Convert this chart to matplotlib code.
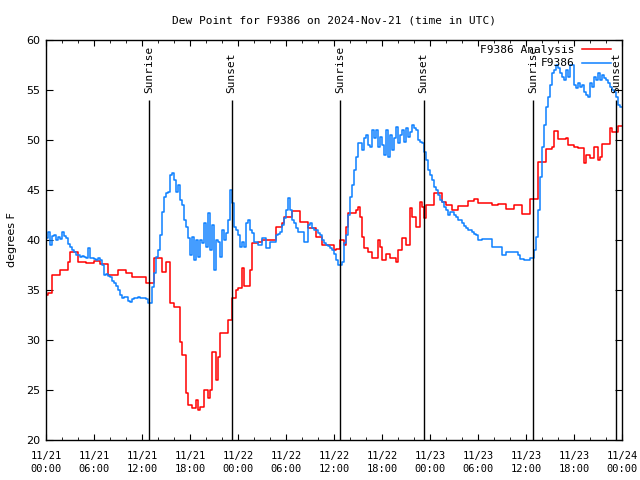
import numpy as np
import matplotlib
matplotlib.use("Agg")
import matplotlib.pyplot as plt
from matplotlib.ticker import MultipleLocator

# hours since 2024-11-21 00:00 UTC, one sample every 15 minutes
step_h = 0.25

# F9386 observed dew point (degF), one row per hour
obs = [
    40.2, 40.8, 39.5, 40.4,  40.5, 40.0, 40.3, 40.1,  40.8, 40.4, 40.2, 39.6,
    39.3, 39.0, 38.8, 38.5,  38.5, 38.3, 38.4, 38.3,  38.2, 39.2, 38.2, 38.2,
    38.1, 38.0, 38.2, 38.0,  37.5, 36.5, 36.6, 36.4,  36.3, 35.9, 35.7, 35.4,
    35.0, 34.5, 34.2, 34.3,  34.3, 33.9, 33.8, 34.1,  34.2, 34.2, 34.3, 34.2,
    34.2, 34.2, 34.1, 33.7,  33.7, 35.3, 36.7, 38.3,  39.0, 40.5, 42.8, 44.3,
    44.7, 44.8, 46.5, 46.7,  46.0, 44.8, 45.5, 44.0,  43.5, 42.0, 41.3, 40.2,
    38.5, 40.3, 38.0, 40.0,  38.3, 40.0, 39.7, 41.7,  39.3, 42.7, 39.0, 41.5,
    37.0, 40.0, 39.8, 38.3,  41.0, 40.0, 40.7, 42.0,  45.0, 43.7, 41.3, 41.0,
    40.5, 39.3, 39.8, 39.3,  41.7, 42.0, 41.0, 40.7,  39.8, 39.8, 39.5, 39.5,
    40.2, 40.2, 39.2, 39.2,  39.8, 39.8, 39.8, 40.5,  40.6, 40.8, 41.5, 42.2,
    43.0, 44.2, 43.0, 42.0,  41.7, 41.2, 40.8, 40.8,  40.8, 39.8, 39.8, 41.5,
    41.7, 41.2, 41.0, 41.0,  40.7, 40.5, 40.0, 39.7,  39.5, 39.4, 39.2, 39.0,
    38.6, 38.0, 37.5, 37.5,  37.8, 39.7, 40.5, 42.5,  44.3, 45.5, 47.0, 48.3,
    49.7, 49.7, 49.0, 50.2,  50.5, 49.5, 49.3, 51.0,  50.2, 51.0, 49.3, 50.3,
    49.5, 48.5, 51.0, 48.3,  50.5, 49.0, 50.2, 51.3,  49.7, 50.5, 51.0, 49.8,
    51.2, 50.3, 50.8, 51.5,  51.2, 51.0, 50.0, 49.8,  49.7, 48.8, 48.0, 47.0,
    46.5, 46.0, 45.3, 45.0,  44.5, 44.0, 43.8, 43.3,  43.0, 42.5, 42.8, 42.8,
    42.5, 42.3, 42.0, 42.0,  41.7, 41.4, 41.2, 41.0,  41.0, 40.8, 40.6, 40.5,
    40.0, 40.0, 40.1, 40.1,  40.1, 40.1, 40.1, 39.3,  39.3, 39.3, 39.3, 39.3,
    38.5, 38.5, 38.8, 38.8,  38.8, 38.8, 38.8, 38.8,  38.5, 38.1, 38.1, 38.0,
    38.0, 38.0, 38.2, 38.2,  39.0, 40.3, 43.0, 46.3,  49.3, 51.5, 53.3, 54.3,
    55.5, 56.7, 57.0, 57.5,  57.2, 56.7, 56.3, 56.0,  57.0, 56.3, 57.5, 57.5,
    55.5, 55.2, 55.7, 55.3,  55.5, 54.8, 54.5, 54.3,  55.7, 55.3, 56.3, 56.0,
    56.7, 56.0, 56.5, 56.2,  56.0, 55.7, 55.3, 55.0,  54.8, 54.3, 53.5, 53.3,
    53.3,
]

# F9386 analysis dew point (degF)
ana = [
    34.5, 34.7, 34.7, 36.5,  36.5, 36.5, 36.5, 37.0,  37.0, 37.0, 37.0, 37.8,
    38.8, 38.8, 38.8, 38.8,  37.8, 37.8, 37.8, 37.8,  37.7, 37.7, 37.7, 37.7,
    37.9, 37.9, 37.9, 37.6,  37.6, 37.6, 37.6, 36.5,  36.5, 36.5, 36.5, 36.5,
    37.0, 37.0, 37.0, 37.0,  36.7, 36.7, 36.7, 36.3,  36.3, 36.3, 36.3, 36.3,
    36.3, 36.3, 35.7, 35.7,  35.7, 35.7, 38.2, 38.2,  38.2, 38.2, 36.8, 36.8,
    37.8, 37.8, 33.7, 33.7,  33.3, 33.3, 33.3, 29.8,  28.5, 28.5, 24.7, 23.5,
    23.5, 23.2, 23.2, 24.0,  23.0, 23.3, 23.3, 25.0,  25.0, 24.2, 25.0, 28.8,
    28.8, 26.0, 28.3, 30.7,  30.7, 30.7, 30.7, 32.0,  32.0, 34.2, 34.2, 35.0,
    35.2, 35.2, 37.2, 35.4,  35.4, 35.4, 37.0, 39.7,  39.7, 39.7, 39.8, 39.8,
    40.0, 40.0, 40.0, 40.0,  40.0, 40.0, 40.0, 41.3,  41.3, 41.3, 41.7, 42.3,
    42.3, 42.3, 42.3, 42.9,  42.9, 42.9, 42.9, 41.8,  41.8, 41.8, 41.8, 41.2,
    41.2, 41.2, 41.2, 40.3,  40.3, 40.3, 39.5, 39.5,  39.5, 39.5, 39.5, 39.5,
    39.0, 39.1, 39.1, 40.0,  40.0, 39.5, 41.3, 42.7,  42.7, 42.7, 42.7, 43.0,
    43.3, 42.3, 40.3, 39.2,  39.2, 38.8, 38.8, 38.2,  38.2, 38.2, 40.0, 39.3,
    38.0, 38.0, 38.6, 38.6,  38.2, 38.2, 38.2, 37.8,  39.0, 39.0, 40.2, 40.2,
    39.5, 39.5, 43.2, 42.3,  42.3, 41.3, 41.3, 43.8,  43.3, 42.2, 43.5, 43.5,
    43.5, 43.5, 44.7, 44.7,  44.7, 44.7, 43.8, 43.8,  43.5, 43.5, 43.5, 43.0,
    43.0, 43.0, 43.4, 43.4,  43.4, 43.4, 43.4, 43.9,  43.9, 43.9, 44.1, 44.1,
    43.7, 43.7, 43.7, 43.7,  43.7, 43.7, 43.7, 43.5,  43.5, 43.5, 43.6, 43.6,
    43.6, 43.6, 43.1, 43.1,  43.1, 43.1, 43.5, 43.5,  43.5, 43.5, 42.6, 42.6,
    42.6, 42.6, 44.1, 44.1,  44.1, 44.1, 47.8, 47.8,  47.8, 47.8, 49.1, 49.1,
    49.1, 49.3, 50.9, 50.9,  50.1, 50.1, 50.1, 50.1,  50.2, 49.5, 49.5, 49.5,
    49.3, 49.3, 49.2, 49.2,  49.2, 47.7, 48.5, 48.5,  48.2, 48.2, 49.3, 49.3,
    48.0, 48.3, 49.6, 49.6,  49.6, 49.6, 51.2, 50.8,  50.8, 50.8, 51.4, 51.4,
    51.4,
]

sun_times = [12.9, 23.2, 36.8, 47.2, 60.85, 71.3]
sun_labels = ["Sunrise", "Sunset", "Sunrise", "Sunset", "Sunrise", "Sunset"]

tick_hours = list(range(0, 73, 6))
tick_labels = ["11/21\n00:00", "11/21\n06:00", "11/21\n12:00", "11/21\n18:00",
               "11/22\n00:00", "11/22\n06:00", "11/22\n12:00", "11/22\n18:00",
               "11/23\n00:00", "11/23\n06:00", "11/23\n12:00", "11/23\n18:00",
               "11/24\n00:00"]

t = np.arange(len(obs)) * step_h

mono = "DejaVu Sans Mono"

fig = plt.figure(figsize=(6.4, 4.8), dpi=100)
ax = fig.add_axes([46/640, 40/480, 576/640, 400/480])

ax.plot(t, ana, drawstyle="steps-post", color="#ff0000", lw=1.1, label="F9386 Analysis")
ax.plot(t, obs, drawstyle="steps-post", color="#0d80ff", lw=1.1, label="F9386")

# sunrise / sunset markers
ax.vlines(sun_times, 20, 54, color="black", lw=1.0)
for st, lab in zip(sun_times, sun_labels):
    ax.text(st, 54.7, lab, rotation=90, ha="center", va="bottom",
            fontsize=8, family=mono)

ax.set_xlim(0, 72)
ax.set_ylim(20, 60)
ax.set_xticks(tick_hours)
ax.set_xticklabels(tick_labels, family=mono, fontsize=7.5, linespacing=1.3)
ax.xaxis.set_minor_locator(MultipleLocator(2))
ax.yaxis.set_major_locator(MultipleLocator(5))
for lab in ax.get_yticklabels():
    lab.set_fontsize(8)

ax.tick_params(which="both", direction="in", top=True, right=True)
ax.tick_params(which="major", axis="x", length=4, pad=8)
ax.tick_params(which="minor", axis="x", length=2)
ax.tick_params(which="major", axis="y", length=5, pad=4)
for sp in ax.spines.values():
    sp.set_linewidth(1.0)

ax.set_ylabel("degrees F", fontsize=8, labelpad=7)
ax.set_title("Dew Point for F9386 on 2024-Nov-21 (time in UTC)",
             family=mono, fontsize=8, pad=12)

ax.legend(loc="upper right", bbox_to_anchor=(0.982, 0.99), markerfirst=False,
          frameon=False, prop={"family": mono, "size": 8}, handlelength=2.6,
          labelspacing=0.3, borderaxespad=0.0, borderpad=0.1, handletextpad=0.6)

fig.savefig("out.png", dpi=100)
